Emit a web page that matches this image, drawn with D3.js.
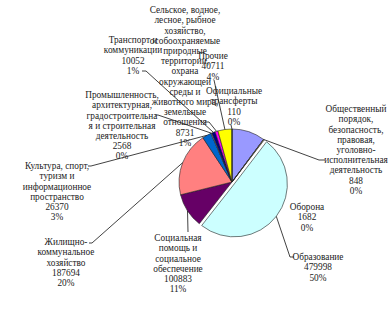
<!DOCTYPE html>
<html>
<head>
<meta charset="utf-8">
<script src="https://cdn.jsdelivr.net/npm/d3@7"></script>
<style>
  body { margin: 0; background: #fff; }
</style>
</head>
<body>
<svg id="chart" width="389" height="310"></svg>
<script>
// -------------------------
// DATA
// -------------------------
const categories = [
  "Общегосударственные вопросы",
  "Общественный порядок, безопасность, правовая, уголовно-исполнительная деятельность",
  "Оборона",
  "Образование",
  "Социальная помощь и социальное обеспечение",
  "Жилищно-коммунальное хозяйство",
  "Культура, спорт, туризм и информационное пространство",
  "Промышленность, архитектурная, градостроительная и строительная деятельность",
  "Транспорт и коммуникации",
  "Сельское, водное, лесное, рыбное хозяйство, особоохраняемые природные территории, охрана окружающей среды и животного мира, земельные отношения",
  "Прочие",
  "Официальные трансферты"
];
const values = [97000, 848, 1682, 479998, 100883, 187694, 26370, 2568, 10052, 8731, 40711, 110];

// label text as wrapped in the picture (null = no label)
const labelLines = [
  null,
  ["Общественный", "порядок,", "безопасность,", "правовая,", "уголовно-", "исполнительная", "деятельность"],
  ["Оборона"],
  ["Образование"],
  ["Социальная", "помощь и", "социальное", "обеспечение"],
  ["Жилищно-", "коммунальное", "хозяйство"],
  ["Культура, спорт,", "туризм и", "информационное", "пространство"],
  ["Промышленность,", "архитектурная,", "градостроительна", "я и строительная", "деятельность"],
  ["Транспорт и", "коммуникации"],
  ["Сельское, водное,", "лесное, рыбное", "хозяйство,", "особоохраняемые", "природные", "территории,", "охрана", "окружающей", "среды и", "животного мира,", "земельные", "отношения"],
  ["Прочие"],
  ["Официальные", "трансферты"]
];

const colors = ["#9999ff", "#993366", "#ffffcc", "#ccffff", "#660066", "#ff8080",
                "#0066cc", "#ccccff", "#000080", "#ff00ff", "#ffff00", "#00ffff"];

// -------------------------
// LAYOUT
// -------------------------
const cx = 232, cy = 182, r = 53;
const lineH = 10.2;
// label centre x, first line y, leader start [x, y] (and elbow x)
const labelPos = {
  1: { x: 356, y: 109, lead: [325, 160, 319] },
  2: { x: 307, y: 207 },
  3: { x: 318, y: 257, lead: [294, 257, 290] },
  4: { x: 178, y: 238, lead: [188, 232] },
  5: { x: 66, y: 242, lead: [89, 243, 92] },
  6: { x: 57, y: 166, lead: [88, 166, 91] },
  7: { x: 122, y: 95, lead: [155, 115, 158] },
  8: { x: 133, y: 40, lead: [142, 71, 146] },
  9: { x: 185, y: 10, lead: [205, 122, 209] },
  10: { x: 213, y: 56, lead: [214, 80] },
  11: { x: 234, y: 91, lead: [231, 125] }
};

const svg = d3.select("#chart");
const total = d3.sum(values);

const pie = d3.pie().sort(null).value(d => d);
const arcs = pie(values);
const arc = d3.arc().innerRadius(0).outerRadius(r);
const edge = d3.arc().innerRadius(r).outerRadius(r);

// exploded slice (Образование)
const explode = i => i === 3 ? 3 : 0;
function offset(d, i) {
  const a = (d.startAngle + d.endAngle) / 2;
  return [Math.sin(a) * explode(i), -Math.cos(a) * explode(i)];
}

const g = svg.append("g").attr("transform", `translate(${cx},${cy})`);

g.selectAll("path").data(arcs).enter().append("path")
  .attr("d", arc)
  .attr("transform", (d, i) => `translate(${offset(d, i)})`)
  .attr("fill", (d, i) => colors[i])
  .attr("stroke", "#222")
  .attr("stroke-width", 0.6);

// -------------------------
// LEADERS + LABELS
// -------------------------
Object.entries(labelPos).forEach(([k, p]) => {
  const i = +k;
  if (!p.lead) return;
  const c = edge.centroid(arcs[i]);
  const o = offset(arcs[i], i);
  const pts = [[p.lead[0], p.lead[1]]];
  if (p.lead[2] !== undefined) pts.push([p.lead[2], p.lead[1]]);
  pts.push([cx + c[0] + o[0], cy + c[1] + o[1]]);
  svg.append("path")
    .attr("d", d3.line()(pts))
    .attr("fill", "none")
    .attr("stroke", "#111")
    .attr("stroke-width", 0.8);
});

Object.entries(labelPos).forEach(([k, p]) => {
  const i = +k;
  const lines = labelLines[i].concat([String(values[i]), Math.round(values[i] / total * 100) + "%"]);
  const t = svg.append("text")
    .attr("text-anchor", "middle")
    .attr("font-family", "'Liberation Serif', 'DejaVu Serif', serif")
    .attr("font-size", "9.3px")
    .attr("fill", "#222");
  lines.forEach((s, j) => {
    t.append("tspan").attr("x", p.x).attr("y", p.y + j * lineH).attr("dy", "0.35em").text(s);
  });
});
</script>
</body>
</html>
